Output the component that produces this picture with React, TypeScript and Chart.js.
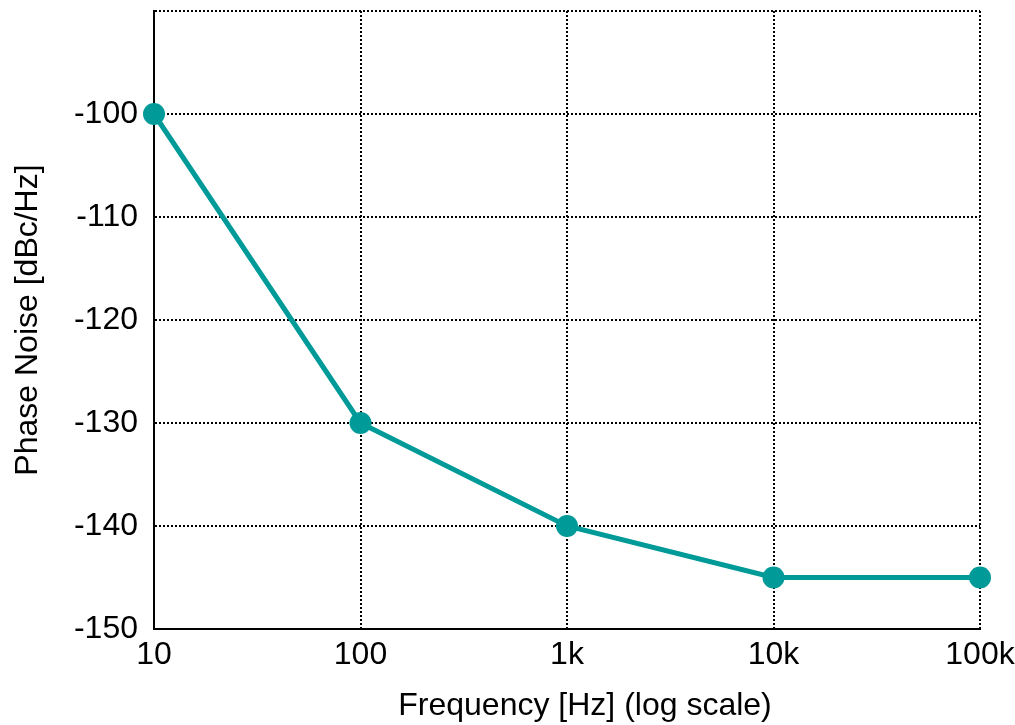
import React, { useEffect, useRef } from "react";
import { Chart, registerables } from "chart.js";

Chart.register(...registerables);

const frequencies = [10, 100, 1000, 10000, 100000];
const phaseNoise = [-100, -130, -140, -145, -145];
const xTickValues = [10, 100, 1000, 10000, 100000];
const xTickLabels = ["10", "100", "1k", "10k", "100k"];
const yTickValues = [-150, -140, -130, -120, -110, -100, -90];
const xTitle = "Frequency [Hz] (log scale)";
const yTitle = "Phase Noise [dBc/Hz]";

const TEAL = "#009b98";
const FONT = "'Liberation Sans', Arial, sans-serif";
const FS = 32;

const xTitlePlugin = {
  id: "xTitleShifted",
  afterDraw(chart: any) {
    const { ctx, chartArea, height } = chart;
    ctx.save();
    ctx.font = `${FS}px ${FONT}`;
    ctx.fillStyle = "#000";
    ctx.textAlign = "center";
    ctx.textBaseline = "middle";
    const cx = (chartArea.left + chartArea.right) / 2 + 18;
    ctx.fillText(xTitle, cx, height - 19);
    ctx.restore();
  },
};

export default function App() {
  const ref = useRef<HTMLCanvasElement | null>(null);

  useEffect(() => {
    document.body.style.margin = "0";
    const canvas = ref.current;
    if (!canvas) return;
    const chart = new Chart(canvas, {
      type: "line",
      data: {
        datasets: [
          {
            data: frequencies.map((f, i) => ({ x: f, y: phaseNoise[i] })),
            borderColor: TEAL,
            backgroundColor: TEAL,
            borderWidth: 5,
            pointRadius: 11,
            pointHoverRadius: 11,
            pointBackgroundColor: TEAL,
            pointBorderWidth: 0,
            tension: 0,
            clip: false as any,
          },
        ],
      },
      plugins: [xTitlePlugin],
      options: {
        responsive: false,
        animation: false,
        events: [],
        layout: { padding: { top: 8, right: 35, left: 0, bottom: 0 } },
        plugins: { legend: { display: false }, tooltip: { enabled: false } },
        scales: {
          x: {
            type: "logarithmic",
            min: 10,
            max: 100000,
            afterBuildTicks: (scale: any) => {
              scale.ticks = xTickValues.map((v) => ({ value: v }));
            },
            afterFit: (scale: any) => {
              scale.height = 96;
              scale.paddingLeft = 0;
              scale.paddingRight = 0;
            },
            ticks: {
              autoSkip: false,
              maxRotation: 0,
              padding: 7,
              color: "#000",
              font: { family: FONT, size: FS },
              callback: (value: any) => {
                const idx = xTickValues.indexOf(Number(value));
                return idx >= 0 ? xTickLabels[idx] : "";
              },
            },
            grid: { color: "#000", lineWidth: 2, drawTicks: false },
            border: { display: true, color: "#000", width: 2, dash: [2, 2] },
            title: { display: false, text: xTitle },
          },
          y: {
            type: "linear",
            min: -150,
            max: -90,
            afterBuildTicks: (scale: any) => {
              scale.ticks = yTickValues.map((v) => ({ value: v }));
            },
            afterFit: (scale: any) => {
              scale.width = 154;
              scale.paddingTop = 0;
              scale.paddingBottom = 0;
            },
            ticks: {
              padding: 16,
              color: "#000",
              font: { family: FONT, size: FS },
              callback: (value: any) => (Number(value) === -90 ? "" : String(value)),
            },
            grid: { color: "#000", lineWidth: 2, drawTicks: false },
            border: { display: true, color: "#000", width: 2, dash: [2, 2] },
            title: {
              display: true,
              text: yTitle,
              color: "#000",
              font: { family: FONT, size: FS },
              padding: { top: 9, bottom: 0 },
            },
          },
        },
      },
    });
    return () => chart.destroy();
  }, []);

  return <canvas ref={ref} width={1015} height={725} style={{ display: "block" }} />;
}
